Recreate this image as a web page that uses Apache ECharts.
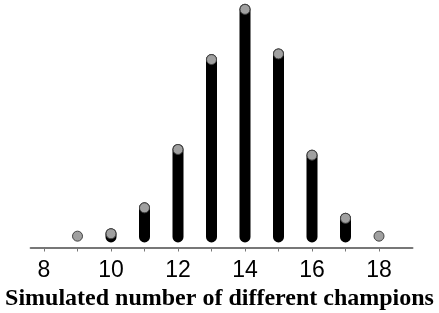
<!DOCTYPE html>
<html>
<head>
<meta charset="utf-8">
<style>
html,body{margin:0;padding:0;background:#fff;}
#chart{width:439px;height:313px;}
</style>
<script src="https://cdn.jsdelivr.net/npm/echarts@6/dist/echarts.min.js"></script>
</head>
<body>
<div id="chart"></div>
<script>
const categories = [9, 10, 11, 12, 13, 14, 15, 16, 17, 18];
const counts = [1, 4, 36, 108, 219, 281, 226, 101, 23, 1];
const tickValues = [8, 9, 10, 11, 12, 13, 14, 15, 16, 17, 18];
const labelValues = [8, 10, 12, 14, 16, 18];
const titleText = 'Simulated number of different champions';

const data = categories.map((c, i) => [c, counts[i]]);

const chart = echarts.init(document.getElementById('chart'), null, {renderer: 'canvas'});
chart.setOption({
  animation: false,
  backgroundColor: '#fff',
  title: {
    text: titleText,
    left: 'center',
    top: 287,
    padding: 0,
    textStyle: {fontFamily: 'Liberation Serif', fontWeight: 'bold', fontSize: 24, color: '#000'}
  },
  grid: {left: 30.6, right: 26.5, top: 2.07, bottom: 65.5},
  xAxis: {
    type: 'value',
    min: 7.6,
    max: 19,
    axisLine: {show: true, onZero: false, lineStyle: {color: '#777', width: 2}},
    axisTick: {show: true, customValues: tickValues, length: 4, lineStyle: {color: '#777', width: 1}},
    axisLabel: {customValues: labelValues, fontSize: 23, color: '#000', fontFamily: 'Liberation Sans', margin: 12},
    splitLine: {show: false}
  },
  yAxis: {
    type: 'value', min: -13, max: 290, show: false, splitLine: {show: false}
  },
  series: [
    {
      type: 'custom',
      data: data,
      renderItem: function (params, api) {
        const x = api.value(0), v = api.value(1);
        if (v <= 1) return null;
        const p0 = api.coord([x, 0]);
        const p1 = api.coord([x, v]);
        return {
          type: 'line',
          shape: {x1: p0[0], y1: p0[1], x2: p1[0], y2: p1[1]},
          style: {stroke: '#000', lineWidth: 11, lineCap: 'round'}
        };
      },
      z: 2
    },
    {
      type: 'scatter',
      data: data,
      symbol: 'circle',
      symbolSize: 10,
      itemStyle: {color: '#a0a0a0', borderColor: '#444', borderWidth: 1, opacity: 1},
      z: 3
    }
  ]
});
</script>
</body>
</html>
